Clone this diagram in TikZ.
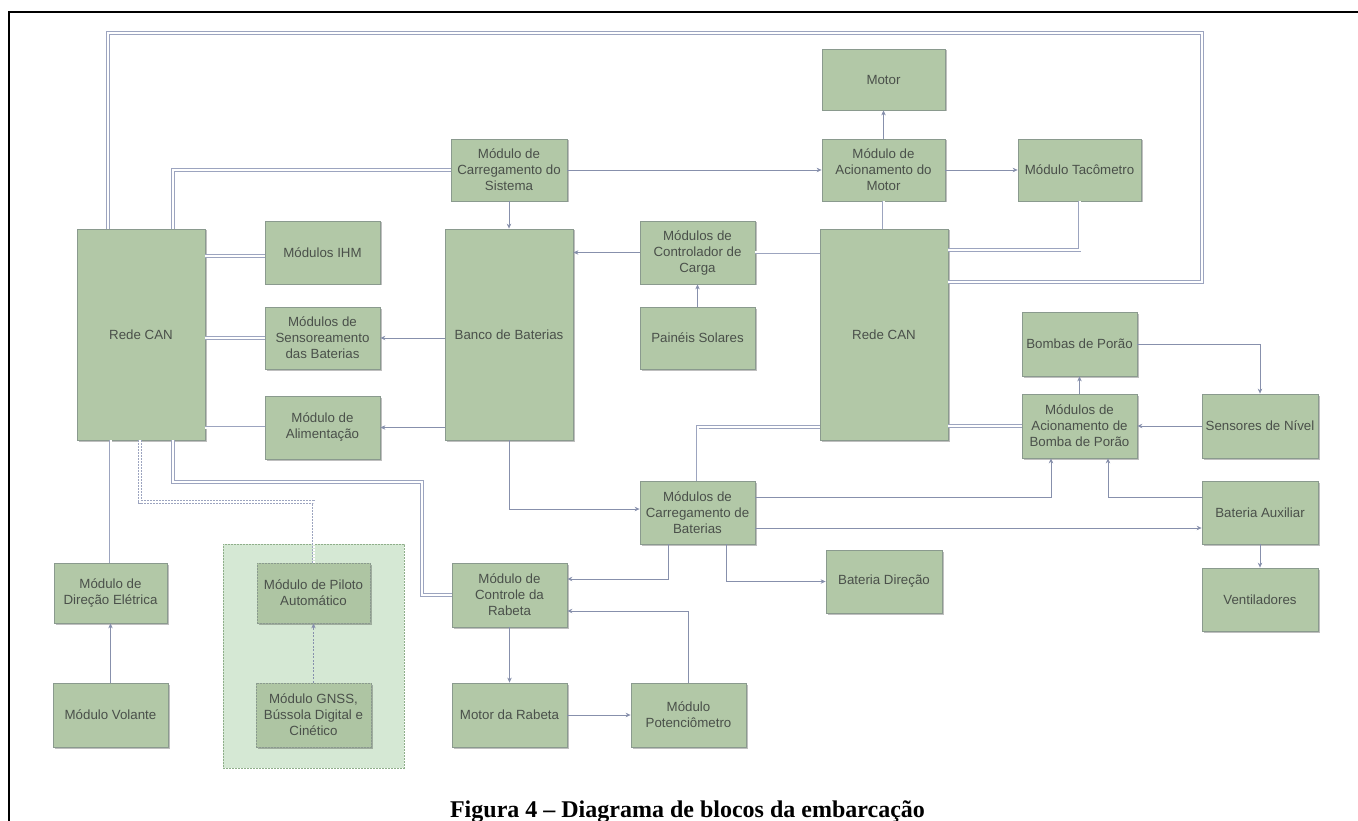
\documentclass[tikz,border=0pt]{standalone}
\usepackage{fontspec}
\setmainfont{Liberation Sans}
\newfontfamily\capfont{Liberation Serif}
\usetikzlibrary{arrows.meta,shadows,calc}
\definecolor{boxfill}{HTML}{B2C8A7}
\definecolor{boxfilld}{HTML}{AEC5A3}
\definecolor{boxline}{HTML}{8A9A8E}
\definecolor{txt}{HTML}{4A504A}
\definecolor{conn}{HTML}{8790AC}
\definecolor{dblc}{HTML}{9CA4BF}
\definecolor{contfill}{HTML}{D5E8D4}
\definecolor{contline}{HTML}{8FAE8A}
\begin{document}
\begin{tikzpicture}[x=1pt,y=-1pt,
  blk/.style={draw=boxline, fill=boxfill, line width=0.8pt, text=txt, align=center,
    inner sep=2pt, font=\fontsize{13.3}{16}\selectfont,
    drop shadow={shadow xshift=1.5pt, shadow yshift=-1.5pt, fill=black, opacity=0.25}},
  blkd/.style={blk, fill=boxfilld, dash pattern=on 2pt off 1pt},
  sz/.style 2 args={minimum width=#1pt, minimum height=#2pt},
  arr/.style={draw=conn, line width=0.7pt, -{Stealth[length=5pt,width=4.5pt]}},
  arrd/.style={arr, dash pattern=on 2pt off 1.5pt},
  dbl/.style={draw=dblc, line width=0.6pt, double=white, double distance=2pt},
  dbld/.style={dbl, dash pattern=on 2pt off 1pt}
]
\useasboundingbox (0,0) rectangle (1358,821);
\draw[line width=2pt] (8.5,821) -- (8.5,12) -- (1358,12);

% container
\node[draw=contline, dash pattern=on 2pt off 1pt, fill=contfill, line width=0.7pt,
  minimum width=181pt, minimum height=224pt] (cont) at (313.5,656) {};

% nodes
\node[blk,sz={128}{211}] (canL) at (141,334.5) {Rede CAN};
\node[blk,sz={115}{63}] (ihm) at (322.5,252.5) {Módulos IHM};
\node[blk,sz={115}{62}] (sens) at (322.5,338) {Módulos de\\Sensoreamento\\das Baterias};
\node[blk,sz={115}{63}] (alim) at (322.5,427.5) {Módulo de\\Alimentação};
\node[blk,sz={116}{62}] (carsis) at (509,170) {Módulo de\\Carregamento do\\Sistema};
\node[blk,sz={128}{211}] (banco) at (509,334.5) {Banco de Baterias};
\node[blk,sz={115}{63}] (ctrl) at (697.5,252.5) {Módulos de\\Controlador de\\Carga};
\node[blk,sz={115}{62}] (solar) at (697.5,338) {Painéis Solares};
\node[blk,sz={123}{61}] (motor) at (883.5,79.5) {Motor};
\node[blk,sz={123}{62}] (acmot) at (883.5,170) {Módulo de\\Acionamento do\\Motor};
\node[blk,sz={123}{62}] (taco) at (1079.5,170) {Módulo Tacômetro};
\node[blk,sz={128}{211}] (canR) at (884,334.5) {Rede CAN};
\node[blk,sz={115}{64}] (bombas) at (1079.5,344) {Bombas de Porão};
\node[blk,sz={115}{64}] (acbomba) at (1079.5,426) {Módulos de\\Acionamento de\\Bomba de Porão};
\node[blk,sz={116}{64}] (sensniv) at (1260,426) {Sensores de Nível};
\node[blk,sz={116}{63}] (bataux) at (1260,512.5) {Bateria Auxiliar};
\node[blk,sz={116}{63}] (vent) at (1260,599.5) {Ventiladores};
\node[blk,sz={115}{63}] (carbat) at (697.5,512.5) {Módulos de\\Carregamento de\\Baterias};
\node[blk,sz={115}{64}] (ctrlrab) at (509.5,595) {Módulo de\\Controle da\\Rabeta};
\node[blk,sz={116}{63}] (batdir) at (884,581.5) {Bateria Direção};
\node[blk,sz={115}{64}] (motrab) at (509.5,715) {Motor da Rabeta};
\node[blk,sz={115}{64}] (pot) at (688.5,715) {Módulo\\Potenciômetro};
\node[blk,sz={113}{60}] (direl) at (110.5,593) {Módulo de\\Direção Elétrica};
\node[blk,sz={115}{64}] (volante) at (110.5,715) {Módulo Volante};
\node[blkd,sz={113}{60}] (piloto) at (313.5,593) {Módulo de Piloto\\Automático};
\node[blkd,sz={115}{64}] (gnss) at (313.5,715) {Módulo GNSS,\\Bússola Digital e\\Cinético};

% double (CAN) links
\draw[dbl] ([xshift=-33pt]canL.north) |- (1202,33) -- (1202,282) -- ([yshift=52.5pt]canR.east);
\draw[dbl] ([xshift=32pt]canL.north) |- (carsis.west);
\draw[dbl] ([yshift=-3.5pt]ihm.west) -- ([yshift=-3.5pt]ihm.west -| canL.east);
\draw[dbl] (sens.west) -- (sens.west -| canL.east);
\draw[dbl] (alim.west) -- (alim.west -| canL.east);
\draw[dbl] (direl.north) -- (direl.north |- canL.south);
\draw[dbl] ([xshift=32pt]canL.south) |- (422,482) |- (ctrlrab.west);
\draw[dbld] ([xshift=-1pt]canL.south) |- (313.5,502) -- (piloto.north);
\draw[dbl] (ctrl.east) -- (ctrl.east -| canR.west);
\draw[dbl] (acmot.south) -- (acmot.south |- canR.north);
\draw[dbl] (taco.south) |- ([yshift=84.5pt]canR.east);
\draw[dbl] (acbomba.west) -- (acbomba.west -| canR.east);
\draw[dbl] (carbat.north) |- ([yshift=-92.5pt]canR.west);

% arrows
\draw[arr] (acmot.north) -- (motor.south);
\draw[arr] (carsis.east) -- (acmot.west);
\draw[arr] (acmot.east) -- (taco.west);
\draw[arr] (carsis.south) -- (banco.north);
\draw[arr] (ctrl.west) -- (ctrl.west -| banco.east);
\draw[arr] (solar.north) -- (ctrl.south);
\draw[arr] (sens.east -| banco.west) -- (sens.east);
\draw[arr] (alim.east -| banco.west) -- (alim.east);
\draw[arr] (banco.south) |- ([yshift=3.5pt]carbat.west);
\draw[arr] (acbomba.north) -- (bombas.south);
\draw[arr] (bombas.east) -| (sensniv.north);
\draw[arr] (sensniv.west) -- (acbomba.east);
\draw[arr] ([yshift=15.5pt]carbat.east) -| ([xshift=-28.5pt]acbomba.south);
\draw[arr] ([yshift=15.5pt]bataux.west) -| ([xshift=28.5pt]acbomba.south);
\draw[arr] ([yshift=-15.5pt]carbat.east) -- ([yshift=-15.5pt]bataux.west);
\draw[arr] (bataux.south) -- (vent.north);
\draw[arr] ([xshift=-29.5pt]carbat.south) |- ([yshift=16pt]ctrlrab.east);
\draw[arr] ([xshift=28.5pt]carbat.south) |- (batdir.west);
\draw[arr] (ctrlrab.south) -- (motrab.north);
\draw[arr] (motrab.east) -- (pot.west);
\draw[arr] (pot.north) |- ([yshift=-16pt]ctrlrab.east);
\draw[arr] (volante.north) -- (direl.south);
\draw[arrd] (gnss.north) -- (piloto.south);

% caption
\node[font=\capfont\bfseries\fontsize{24}{28}\selectfont, anchor=base] (cap) at (687.5,817)
  {Figura 4 – Diagrama de blocos da embarcação};
\end{tikzpicture}
\end{document}
